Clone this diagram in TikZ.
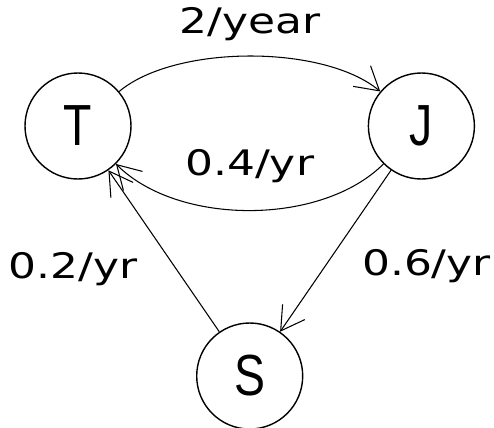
\documentclass[tikz,border=0pt]{standalone}
\usepackage{fontspec}
\usetikzlibrary{arrows.meta, positioning, calc}
\newfontfamily\statefont[FakeStretch=0.8]{Liberation Sans}
\newfontfamily\ratefont[FakeStretch=1.25]{DejaVu Sans}
\tikzstyle{state} = [circle, draw=black, line width=0.8pt, minimum size=2.12cm, inner sep=0pt, font=\statefont\fontsize{33}{33}\selectfont]
\tikzstyle{rate} = [font=\ratefont\fontsize{20}{20}\selectfont, inner sep=2pt]
\tikzstyle{arrow} = [line width=0.6pt, -{Straight Barb[length=4.6mm, width=5.4mm]}]

\begin{document}
\begin{tikzpicture}
    \useasboundingbox (-1.56,2.52) rectangle (8.32,-6.02);

    % States
    \node (T) [state] {T};
    \node (J) [state, right=4.72cm of T] {J};
    \node (S) [state] at ($(T)!0.5!(J)+(0,-5)$) {S};

    % Transitions
    \draw [arrow] (T) to[bend left=40, looseness=0.72] node (rTJ) [rate, midway, above=0.22cm] {2/year} (J);
    \draw [arrow] (J) to[bend left=45, looseness=0.84] node (rJT) [rate, midway, above=0.48cm] {0.4/yr} (T);
    \draw [arrow] (S) -- node (rST) [rate, midway, left=0.45cm, yshift=-0.36cm] {0.2/yr} (T);
    \draw [arrow] (J) -- node (rJS) [rate, midway, right=0.45cm, yshift=-0.3cm] {0.6/yr} (S);

\end{tikzpicture}
\end{document}
